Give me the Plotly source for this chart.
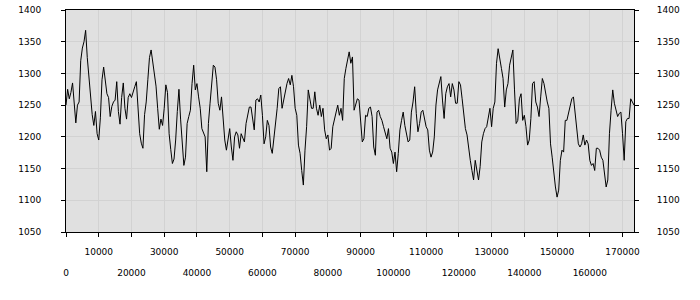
import plotly.graph_objects as go

STEP = 500
values = [
    1250, 1275, 1260, 1270, 1285, 1255, 1222, 1250, 1255, 1320, 1340, 1350, 1368, 1325, 1290, 1255, 1235, 1218, 1240, 1205,
    1195, 1230, 1290, 1310, 1288, 1268, 1262, 1232, 1248, 1255, 1258, 1287, 1240, 1220, 1262, 1285, 1245, 1228, 1262, 1268,
    1262, 1272, 1279, 1287, 1240, 1205, 1190, 1182, 1235, 1255, 1290, 1325, 1337, 1318, 1305, 1280, 1245, 1212, 1228, 1218,
    1245, 1282, 1270, 1205, 1180, 1158, 1165, 1195, 1240, 1275, 1228, 1195, 1155, 1168, 1221, 1232, 1242, 1284, 1313, 1274,
    1284, 1263, 1245, 1213, 1205, 1200, 1145, 1221, 1253, 1282, 1313, 1310, 1290, 1253, 1242, 1263, 1229, 1195, 1179, 1200,
    1213, 1184, 1163, 1200, 1208, 1203, 1182, 1205, 1197, 1192, 1221, 1234, 1247, 1247, 1232, 1211, 1258, 1260, 1255, 1266,
    1234, 1189, 1200, 1226, 1218, 1184, 1174, 1195, 1216, 1245, 1276, 1279, 1245, 1260, 1271, 1284, 1292, 1282, 1297, 1279,
    1245, 1234, 1187, 1174, 1147, 1124, 1179, 1216, 1274, 1258, 1245, 1245, 1271, 1245, 1234, 1250, 1232, 1245, 1211, 1197,
    1203, 1179, 1182, 1216, 1226, 1239, 1250, 1234, 1245, 1226, 1292, 1308, 1321, 1334, 1316, 1326, 1242, 1253, 1260, 1258,
    1226, 1192, 1197, 1234, 1232, 1245, 1247, 1232, 1184, 1171, 1239, 1242, 1232, 1226, 1216, 1205, 1197, 1213, 1182, 1176,
    1158, 1176, 1145, 1174, 1211, 1226, 1239, 1218, 1205, 1192, 1195, 1239, 1255, 1279, 1237, 1208, 1221, 1239, 1242, 1226,
    1216, 1211, 1179, 1168, 1176, 1200, 1250, 1274, 1284, 1295, 1258, 1229, 1268, 1279, 1284, 1263, 1284, 1274, 1253, 1253,
    1287, 1282, 1260, 1237, 1213, 1203, 1179, 1163, 1147, 1132, 1163, 1147, 1132, 1153, 1192, 1205, 1213, 1216, 1234, 1245,
    1216, 1245, 1255, 1316, 1339, 1326, 1308, 1292, 1247, 1274, 1284, 1313, 1326, 1337, 1274, 1221, 1226, 1260, 1268, 1226,
    1234, 1216, 1187, 1195, 1229, 1284, 1287, 1255, 1247, 1232, 1263, 1292, 1284, 1268, 1255, 1245, 1189, 1168, 1142, 1121,
    1105, 1116, 1163, 1179, 1176, 1226, 1226, 1239, 1250, 1260, 1263, 1237, 1211, 1189, 1184, 1189, 1203, 1187, 1195, 1189,
    1163, 1155, 1158, 1147, 1182, 1182, 1179, 1168, 1163, 1142, 1121, 1132, 1205, 1242, 1274, 1253, 1242, 1232, 1237, 1239,
    1205, 1163, 1224, 1229, 1229, 1260, 1255, 1250,
]
x_vals = [i * STEP for i in range(len(values))]

y_ticks = [1050, 1100, 1150, 1200, 1250, 1300, 1350, 1400]
x_all_ticks = list(range(0, 170001, 10000))
x_upper = [v for v in x_all_ticks if (v // 10000) % 2 == 1]
x_lower = [v for v in x_all_ticks if (v // 10000) % 2 == 0]

X_RANGE = [0, 173500]
Y_RANGE = [1050, 1400]
FONT = dict(family="DejaVu Sans, Verdana, sans-serif", size=9, color="black")

fig = go.Figure()
fig.add_trace(go.Scatter(x=x_vals, y=values, mode="lines",
                         line=dict(color="black", width=1),
                         showlegend=False, hoverinfo="skip"))
fig.add_trace(go.Scatter(x=[0], y=[1050], mode="markers", marker=dict(opacity=0),
                         xaxis="x2", yaxis="y2", showlegend=False, hoverinfo="skip"))

fig.update_layout(
    width=700, height=300,
    margin=dict(l=66, r=66, t=10, b=68, autoexpand=False),
    paper_bgcolor="white", plot_bgcolor="#e0e0e0",
    font=FONT,
    xaxis=dict(range=X_RANGE, tickmode="array", tickvals=x_all_ticks,
               ticktext=[str(v) if v in x_upper else "" for v in x_all_ticks],
               ticks="outside", ticklen=4, tickcolor="black",
               showgrid=True, gridcolor="#d2d2d2", gridwidth=1,
               showline=True, linecolor="black", linewidth=1, mirror=True,
               zeroline=False, ticklabelstandoff=7, tickfont=FONT, automargin=False),
    xaxis2=dict(range=X_RANGE, overlaying="x", anchor="y", side="bottom",
                tickmode="array", tickvals=x_lower, ticktext=[str(v) for v in x_lower],
                ticks="", showgrid=False, showline=False, zeroline=False,
                ticklabelstandoff=34, tickfont=FONT, automargin=False),
    yaxis=dict(range=Y_RANGE, tickmode="array", tickvals=y_ticks,
               ticks="outside", ticklen=4, tickcolor="black",
               showgrid=True, gridcolor="#d2d2d2", gridwidth=1,
               showline=True, linecolor="black", linewidth=1, mirror=True,
               zeroline=False, ticklabelstandoff=18, tickfont=FONT, automargin=False),
    yaxis2=dict(range=Y_RANGE, overlaying="y", anchor="x", side="right",
                tickmode="array", tickvals=y_ticks,
                ticks="outside", ticklen=4, tickcolor="black",
                showgrid=False, showline=False, zeroline=False,
                ticklabelstandoff=16, tickfont=FONT, automargin=False),
)

fig.write_html("out.html")
